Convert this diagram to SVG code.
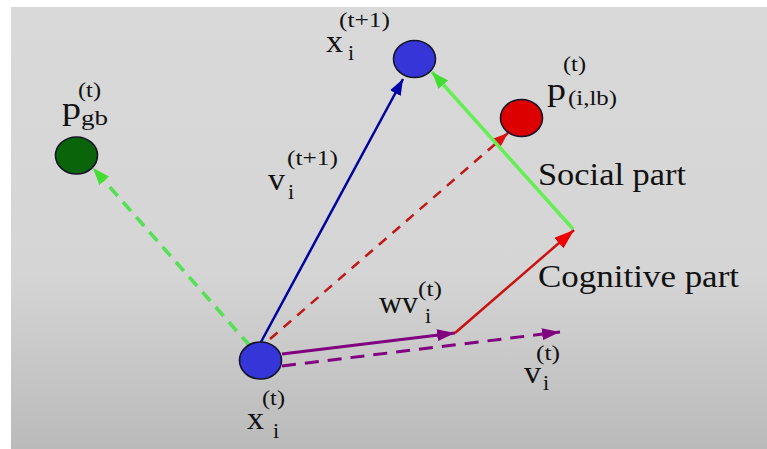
<svg xmlns="http://www.w3.org/2000/svg" width="767" height="449" viewBox="0 0 767 449">
<defs>
<linearGradient id="bg" x1="0" y1="0" x2="0" y2="1">
<stop offset="0" stop-color="#d9d9d9"/>
<stop offset="0.6" stop-color="#d5d5d5"/>
<stop offset="1" stop-color="#bababa"/>
</linearGradient>
<marker id="ahBlue" markerUnits="userSpaceOnUse" markerWidth="16" markerHeight="12" refX="16" refY="6" orient="auto"><path d="M0,0 L16,6 L0,12 z" fill="#0000a8"/></marker>
<marker id="ahGreen" markerUnits="userSpaceOnUse" markerWidth="17" markerHeight="13" refX="17" refY="6.5" orient="auto"><path d="M0,0 L17,6.5 L0,13 z" fill="#44dd33"/></marker>
<marker id="ahRed" markerUnits="userSpaceOnUse" markerWidth="20" markerHeight="14" refX="20" refY="7" orient="auto"><path d="M0,0 L20,7 L0,14 z" fill="#ee0000"/></marker>
<marker id="ahRedD" markerUnits="userSpaceOnUse" markerWidth="16" markerHeight="12" refX="16" refY="6" orient="auto"><path d="M0,0 L16,6 L0,12 z" fill="#dd1010"/></marker>
<marker id="ahPurple" markerUnits="userSpaceOnUse" markerWidth="18" markerHeight="12" refX="18" refY="6" orient="auto"><path d="M0,0 L18,6 L0,12 z" fill="#800080"/></marker>
</defs>
<style>
text { font-family: "Liberation Serif", "Times New Roman", serif; fill: #111; }
.big { font-size: 32px; }
.sm { font-size: 22px; }
.lbl { font-size: 31px; }
.node { stroke: #141428; stroke-width: 1.6; }
.conn { fill: none; }
</style>
<rect x="11" y="7" width="756" height="442" fill="url(#bg)"/>
<g id="connectors">
<line class="conn" x1="250" y1="346" x2="93" y2="168" stroke="#55e055" stroke-width="3.5" stroke-dasharray="12 8" marker-end="url(#ahGreen)"/>
<line class="conn" x1="270" y1="339" x2="508" y2="133" stroke="#c01818" stroke-width="2.5" stroke-dasharray="10 8" marker-end="url(#ahRedD)"/>
<line class="conn" x1="261" y1="342" x2="403" y2="79" stroke="#0000a0" stroke-width="2.5" marker-end="url(#ahBlue)"/>
<line class="conn" x1="282" y1="366" x2="560" y2="332" stroke="#800080" stroke-width="3" stroke-dasharray="14 9" marker-end="url(#ahPurple)"/>
<line class="conn" x1="282" y1="354" x2="455" y2="333" stroke="#800080" stroke-width="3" marker-end="url(#ahPurple)"/>
<line class="conn" x1="455" y1="333" x2="574" y2="230" stroke="#cc1010" stroke-width="2.5" marker-end="url(#ahRed)"/>
<line class="conn" x1="573" y1="229" x2="432" y2="72" stroke="#66ee55" stroke-width="3.5" marker-end="url(#ahGreen)"/>
</g>
<g id="node-x-t">
<ellipse class="node" cx="260.5" cy="360.5" rx="21" ry="18.5" fill="#3535d8"/>
<text class="sm" x="262" y="405" textLength="23" lengthAdjust="spacingAndGlyphs">(t)</text>
<text class="big" x="247" y="429" textLength="17" lengthAdjust="spacingAndGlyphs">x</text>
<text class="sm" x="273" y="438">i</text>
</g>
<g id="node-x-t1">
<ellipse class="node" cx="414.5" cy="59" rx="21" ry="18.5" fill="#3535d8"/>
<text class="sm" x="339" y="27" textLength="51" lengthAdjust="spacingAndGlyphs">(t+1)</text>
<text class="big" x="326" y="52" textLength="17" lengthAdjust="spacingAndGlyphs">x</text>
<text class="sm" x="348" y="60">i</text>
</g>
<g id="node-pgb">
<ellipse class="node" cx="76.5" cy="155.5" rx="21" ry="18.5" fill="#0a650a"/>
<text class="sm" x="78" y="97" textLength="23" lengthAdjust="spacingAndGlyphs">(t)</text>
<text class="big" x="62" y="119" textLength="19" lengthAdjust="spacingAndGlyphs">p</text>
<text class="sm" x="81" y="125" textLength="27" lengthAdjust="spacingAndGlyphs">gb</text>
</g>
<g id="node-plb">
<ellipse class="node" cx="521.5" cy="118" rx="21" ry="18.5" fill="#dd0000"/>
<text class="sm" x="563" y="71" textLength="23" lengthAdjust="spacingAndGlyphs">(t)</text>
<text class="big" x="547" y="100" textLength="19" lengthAdjust="spacingAndGlyphs">p</text>
<text class="sm" x="568" y="105" textLength="49" lengthAdjust="spacingAndGlyphs">(i,lb)</text>
</g>
<g id="label-v-t1">
<text class="sm" x="287" y="165" textLength="51" lengthAdjust="spacingAndGlyphs">(t+1)</text>
<text class="big" x="268" y="190" textLength="17" lengthAdjust="spacingAndGlyphs">v</text>
<text class="sm" x="288" y="199">i</text>
</g>
<g id="label-wv-t">
<text class="sm" x="418" y="296" textLength="24" lengthAdjust="spacingAndGlyphs">(t)</text>
<text class="big" x="379" y="313" textLength="39" lengthAdjust="spacingAndGlyphs">wv</text>
<text class="sm" x="425" y="323">i</text>
</g>
<g id="label-v-t">
<text class="sm" x="536" y="360" textLength="24" lengthAdjust="spacingAndGlyphs">(t)</text>
<text class="big" x="524" y="383" textLength="17" lengthAdjust="spacingAndGlyphs">v</text>
<text class="sm" x="543" y="390">i</text>
</g>
<g id="label-social">
<text class="lbl" x="538" y="185" textLength="148" lengthAdjust="spacingAndGlyphs">Social part</text>
</g>
<g id="label-cognitive">
<text class="lbl" x="538" y="287" textLength="201" lengthAdjust="spacingAndGlyphs">Cognitive part</text>
</g>
</svg>
